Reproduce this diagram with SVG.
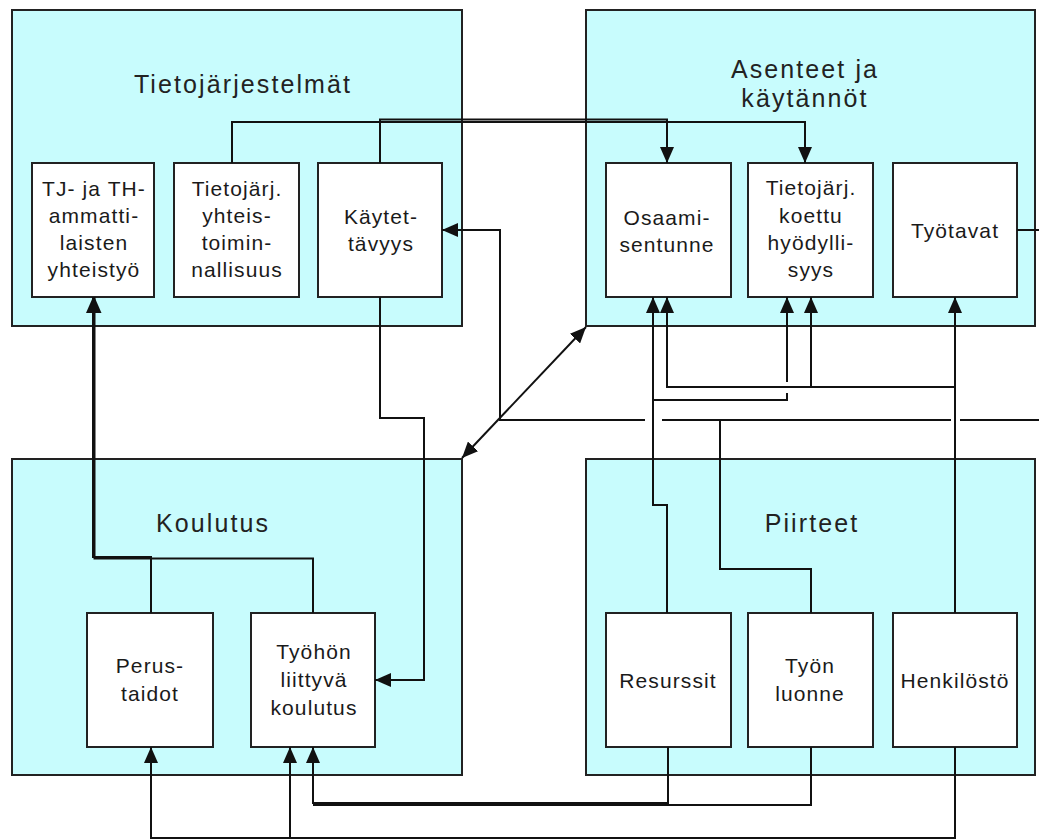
<svg xmlns="http://www.w3.org/2000/svg" width="1039" height="840" viewBox="0 0 1039 840">
  <style>
    .panel { fill: #C8FCFD; stroke: #222; stroke-width: 2; }
    .box { fill: #FFFFFF; stroke: #222; stroke-width: 2; }
    .title { font-family: "Liberation Sans", Arial, sans-serif; font-size: 25px; letter-spacing: 2.1px; fill: #222; text-anchor: middle; }
    .label { font-family: "Liberation Sans", Arial, sans-serif; font-size: 21px; letter-spacing: 1.1px; fill: #1a1a1a; text-anchor: middle; }
    .conn { fill: none; stroke: #111; stroke-width: 2; }
    .arrow { marker-end: url(#head); }
  </style>
  <defs>
    <marker id="head" viewBox="0 0 16 14" refX="16" refY="7" markerWidth="16" markerHeight="14" markerUnits="userSpaceOnUse" orient="auto-start-reverse">
      <path d="M0,0 L16,7 L0,14 z" fill="#111"/>
    </marker>
  </defs>

  <rect width="1039" height="840" fill="#FFFFFF"/>

  <!-- Panels -->
  <g id="panel-tietojarjestelmat">
    <rect class="panel" x="12" y="10" width="450" height="316"/>
    <text class="title" x="243" y="93">Tietojärjestelmät</text>
  </g>
  <g id="panel-asenteet">
    <rect class="panel" x="586" y="10" width="449" height="316"/>
    <text class="title" x="805" y="78">Asenteet ja</text>
    <text class="title" x="805" y="107">käytännöt</text>
  </g>
  <g id="panel-koulutus">
    <rect class="panel" x="12" y="459" width="450" height="316"/>
    <text class="title" x="213" y="532">Koulutus</text>
  </g>
  <g id="panel-piirteet">
    <rect class="panel" x="586" y="459" width="449" height="316"/>
    <text class="title" x="812" y="532">Piirteet</text>
  </g>

  <!-- Tietojärjestelmät -->
  <g id="node-yhteistyo">
    <rect class="box" x="32" y="163" width="122" height="134"/>
    <text class="label" x="94" y="196">TJ- ja TH-</text>
    <text class="label" x="94" y="223">ammatti-</text>
    <text class="label" x="94" y="250">laisten</text>
    <text class="label" x="94" y="277">yhteistyö</text>
  </g>
  <g id="node-yhteistoiminnallisuus">
    <rect class="box" x="174" y="163" width="125" height="134"/>
    <text class="label" x="237" y="196">Tietojärj.</text>
    <text class="label" x="237" y="223">yhteis-</text>
    <text class="label" x="237" y="250">toimin-</text>
    <text class="label" x="237" y="277">nallisuus</text>
  </g>
  <g id="node-kaytettavyys">
    <rect class="box" x="318" y="163" width="124" height="134"/>
    <text class="label" x="381" y="224">Käytet-</text>
    <text class="label" x="381" y="251">tävyys</text>
  </g>

  <!-- Asenteet ja käytännöt -->
  <g id="node-osaamisentunne">
    <rect class="box" x="606" y="163" width="125" height="134"/>
    <text class="label" x="667" y="225">Osaami-</text>
    <text class="label" x="667" y="252">sentunne</text>
  </g>
  <g id="node-hyodyllisyys">
    <rect class="box" x="748" y="163" width="125" height="134"/>
    <text class="label" x="811" y="195">Tietojärj.</text>
    <text class="label" x="811" y="223">koettu</text>
    <text class="label" x="811" y="250">hyödylli-</text>
    <text class="label" x="811" y="277">syys</text>
  </g>
  <g id="node-tyotavat">
    <rect class="box" x="893" y="163" width="124" height="134"/>
    <text class="label" x="955" y="238">Työtavat</text>
  </g>

  <!-- Koulutus -->
  <g id="node-perustaidot">
    <rect class="box" x="87" y="613" width="126" height="134"/>
    <text class="label" x="150" y="673">Perus-</text>
    <text class="label" x="150" y="701">taidot</text>
  </g>
  <g id="node-tyohon-liittyva">
    <rect class="box" x="251" y="613" width="124" height="134"/>
    <text class="label" x="314" y="659">Työhön</text>
    <text class="label" x="314" y="687">liittyvä</text>
    <text class="label" x="314" y="715">koulutus</text>
  </g>

  <!-- Piirteet -->
  <g id="node-resurssit">
    <rect class="box" x="606" y="613" width="125" height="134"/>
    <text class="label" x="668" y="688">Resurssit</text>
  </g>
  <g id="node-tyon-luonne">
    <rect class="box" x="748" y="613" width="125" height="134"/>
    <text class="label" x="810" y="673">Työn</text>
    <text class="label" x="810" y="701">luonne</text>
  </g>
  <g id="node-henkilosto">
    <rect class="box" x="893" y="613" width="124" height="134"/>
    <text class="label" x="955" y="688">Henkilöstö</text>
  </g>

  <!-- Connectors -->
  <g id="connectors">
    <!-- Tietojärjestelmät to Asenteet -->
    <path class="conn arrow" d="M232,163 V122 H805 V163"/>
    <path class="conn arrow" d="M380,163 V119.5 H667 V163"/>
    <!-- Työtavat / Työn luonne back to Käytettävyys (broken at crossings) -->
    <path class="conn arrow" d="M1017,230 H1045 V420 H960 M951,420 H662 M645,420 H500 V230 H442"/>
    <path class="conn" d="M811,613 V569 H720 V420"/>
    <!-- Käytettävyys to Työhön liittyvä koulutus -->
    <path class="conn arrow" d="M380,297 V418 H424 V680 H375"/>
    <!-- Resurssit upwards -->
    <path class="conn arrow" d="M667,613 V505 H653 V297"/>
    <path class="conn arrow" d="M653,505 V400 H787 V393 M787,382 V297"/>
    <!-- Henkilöstö upwards -->
    <path class="conn arrow" d="M955,613 V297"/>
    <path class="conn arrow" d="M955,387 H667 V297"/>
    <path class="conn arrow" d="M811,387 V297"/>
    <!-- Koulutus to TJ- ja TH-ammattilaisten yhteistyö -->
    <path class="conn arrow" d="M151,613 V557 H93 V297"/>
    <path class="conn arrow" d="M313,613 V558.5 H94.5 V297"/>
    <!-- Piirteet to Koulutus -->
    <path class="conn arrow" d="M668,747 V803 H313 V747"/>
    <path class="conn" d="M811,747 V805 H313"/>
    <path class="conn arrow" d="M955,747 V838 H151 V747"/>
    <path class="conn arrow" d="M290,838 V747"/>
    <!-- Koulutus <-> Asenteet -->
    <path class="conn" d="M462,458 L586,327" marker-start="url(#head)" marker-end="url(#head)"/>
  </g>
</svg>
